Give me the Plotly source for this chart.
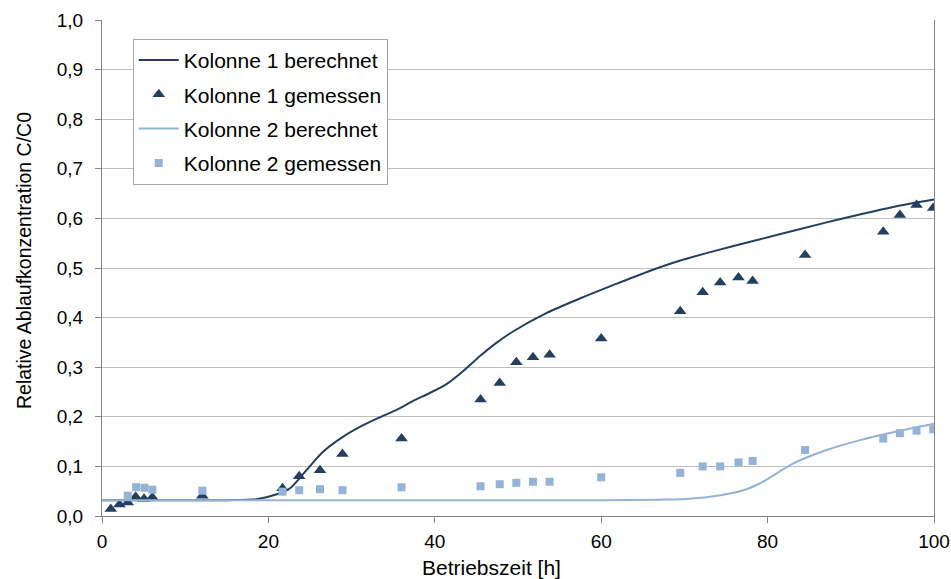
import plotly.graph_objects as go

# Kolonne 1 berechnet
k1_calc_x = [0, 5, 10, 15, 18.6, 21, 22.6, 24.6, 26.6, 29, 31.4, 33.4, 35.4, 37.4, 39.4, 41.4, 43.4, 45.4,
             47.4, 49.4, 53.4, 57.5, 61.5, 65.5, 69.5, 73.1, 79.1, 87.1, 95.1, 100]
k1_calc_y = [0.032, 0.032, 0.032, 0.032, 0.034, 0.044, 0.056, 0.093, 0.13, 0.16, 0.183, 0.199, 0.214, 0.232,
             0.248, 0.266, 0.292, 0.322, 0.349, 0.372, 0.409, 0.439, 0.466, 0.492, 0.515, 0.532, 0.558,
             0.592, 0.623, 0.638]

# Kolonne 1 gemessen
k1_meas_x = [1.05, 2.1, 3.1, 4.05, 5.05, 6.05, 12.06, 21.7, 23.7, 26.2, 28.9, 36, 45.5, 47.8, 49.8, 51.8,
             53.8, 60, 69.5, 72.2, 74.3, 76.5, 78.2, 84.5, 93.9, 95.9, 97.9, 99.9]
k1_meas_y = [0.014, 0.023, 0.027, 0.039, 0.035, 0.038, 0.041, 0.056, 0.08, 0.092, 0.125, 0.156, 0.235,
             0.268, 0.31, 0.32, 0.325, 0.358, 0.413, 0.451, 0.471, 0.481, 0.474, 0.526, 0.573, 0.607, 0.627, 0.621]

# Kolonne 2 berechnet
k2_calc_x = [0, 10, 20, 30, 40, 50, 60, 67.1, 69.5, 73.1, 77.1, 79.1, 81.1, 83.1, 87.1, 91.1, 95.1, 100]
k2_calc_y = [0.032, 0.032, 0.032, 0.032, 0.032, 0.032, 0.032, 0.033, 0.034, 0.039, 0.052, 0.066, 0.086,
             0.106, 0.133, 0.153, 0.169, 0.186]

# Kolonne 2 gemessen
k2_meas_x = [3.1, 4.1, 5.1, 6.05, 12.06, 21.7, 23.7, 26.2, 28.9, 36, 45.5, 47.8, 49.8, 51.8, 53.8, 60,
             69.5, 72.2, 74.3, 76.5, 78.2, 84.5, 93.9, 95.9, 97.9, 99.9]
k2_meas_y = [0.041, 0.058, 0.057, 0.053, 0.051, 0.049, 0.052, 0.054, 0.052, 0.058, 0.06, 0.064, 0.067,
             0.069, 0.069, 0.078, 0.087, 0.1, 0.1, 0.108, 0.111, 0.133, 0.156, 0.167, 0.172, 0.175]

y_ticks = [0, 0.1, 0.2, 0.3, 0.4, 0.5, 0.6, 0.7, 0.8, 0.9, 1.0]
x_ticks = [0, 20, 40, 60, 80, 100]
x_title = "Betriebszeit [h]"
y_title = "Relative Ablaufkonzentration C/C0"

dark = "#243F60"
light = "#95B3D7"
font = "Liberation Sans, Arial, sans-serif"

fig = go.Figure()
fig.add_trace(go.Scatter(x=k1_calc_x, y=k1_calc_y, mode="lines", name="Kolonne 1 berechnet",
                         line=dict(color=dark, width=2, shape="spline", smoothing=0.8), legendgroup="a"))
fig.add_trace(go.Scatter(x=k1_meas_x, y=k1_meas_y, mode="markers", name="Kolonne 1 gemessen",
                         marker=dict(symbol="triangle-up", size=11, color=dark), legendgroup="b"))
fig.add_trace(go.Scatter(x=k2_calc_x, y=k2_calc_y, mode="lines", name="Kolonne 2 berechnet",
                         line=dict(color=light, width=2, shape="spline", smoothing=0.8), legendgroup="c"))
fig.add_trace(go.Scatter(x=k2_meas_x, y=k2_meas_y, mode="markers", name="Kolonne 2 gemessen",
                         marker=dict(symbol="square", size=8, color=light), legendgroup="d"))

fig.update_layout(
    width=951, height=579,
    margin=dict(l=102, r=17, t=20, b=63, autoexpand=False),
    paper_bgcolor="white", plot_bgcolor="white",
    separators=",.",
    font=dict(family=font, size=18, color="#000000"),
    legend=dict(x=0.037, y=0.962, xanchor="left", yanchor="top",
                bgcolor="white", bordercolor="#A6A6A6", borderwidth=1,
                font=dict(family=font, size=21, color="#000000"),
                tracegroupgap=4, traceorder="grouped", itemwidth=40),
    xaxis=dict(range=[0, 100], tickvals=x_ticks, showgrid=False, zeroline=False,
               showline=True, linecolor="#868686", linewidth=1, automargin=False,
               ticks="outside", ticklen=6, tickcolor="#868686",
               tickfont=dict(size=19), ticklabelstandoff=2),
    yaxis=dict(range=[0, 1.0], tickvals=y_ticks, tickformat=".1f", automargin=False,
               showgrid=True, gridcolor="#BFBFBF", gridwidth=1, zeroline=False,
               showline=True, linecolor="#868686", linewidth=1, mirror=True,
               ticks="outside", ticklen=6, tickcolor="#868686",
               tickfont=dict(size=19), ticklabelstandoff=8),
    annotations=[
        dict(text=x_title, xref="paper", yref="paper", x=(491 - 102) / 832, y=-(567 - 516) / 496,
             xanchor="center", yanchor="middle", showarrow=False, font=dict(size=21)),
        dict(text=y_title, xref="paper", yref="paper", x=-(102 - 24) / 832, y=(516 - 261) / 496,
             xanchor="center", yanchor="middle", showarrow=False, textangle=-90, font=dict(size=19.5)),
    ],
)

fig.write_html("out.html")
